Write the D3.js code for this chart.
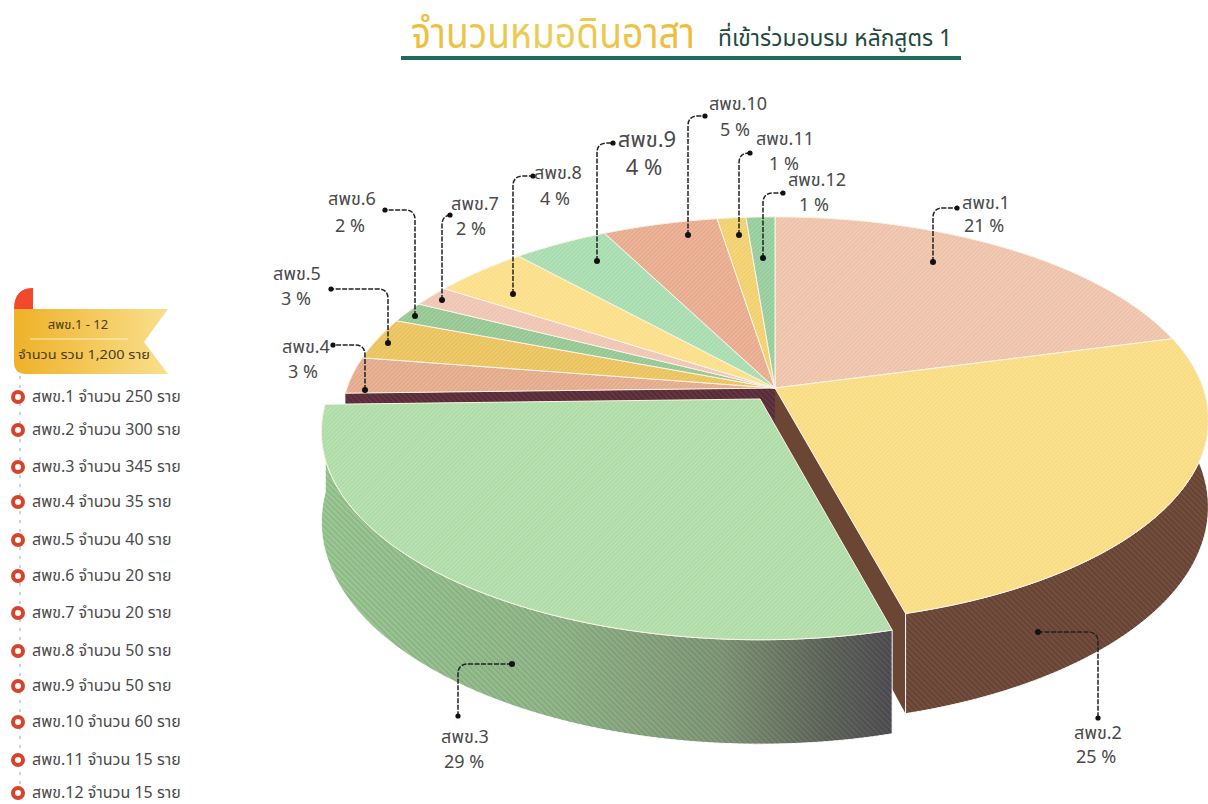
<!DOCTYPE html>
<html>
<head>
<meta charset="utf-8">
<script src="https://cdn.jsdelivr.net/npm/d3@7"></script>
<style>
  html, body { margin: 0; padding: 0; background: #fff; }
  text { font-family: "Noto Sans Thai", "Noto Sans", "Open Sans", sans-serif; fill: #4a4a4a; }
</style>
</head>
<body>
<div id="chart"></div>
<script>
// farmers per region
const regions = ["สพข.1", "สพข.2", "สพข.3", "สพข.4", "สพข.5", "สพข.6", "สพข.7", "สพข.8", "สพข.9", "สพข.10", "สพข.11", "สพข.12"];
const counts = [250, 300, 345, 35, 40, 20, 20, 50, 50, 60, 15, 15];
const percents = [21, 25, 29, 3, 3, 2, 2, 4, 4, 5, 1, 1];
const colors = ["#eec2a9", "#f9dc80", "#aedca6", "#e3a988", "#eac25a", "#93c690", "#efc4b2", "#fbde86", "#a6dcae", "#e8aa8c", "#f1cf6a", "#94cc9b"];

// callouts: name pos, percent pos, dot on the slice, end of the leader
const namePos = [[986,203],[1098,733],[465,737],[306,347],[297,274],[352,199],[475,204],[558,173],[647,141],[738,104],[785,139],[817,180]];
const pctPos = [[984,226],[1096,757],[464,762],[303,372],[296,299],[350,226],[471,229],[555,199],[644,169],[735,130],[784,164],[814,205]];
const dotPos = [[933,262],[1038,632],[512,664],[365,390],[388,343],[415,316],[442,300],[513,294],[597,261],[688,235],[739,235],[763,258]];
const endPos = [[957,208],[1098,718],[458,716],[333,345],[331,289],[385,210],[450,215],[533,176],[613,143],[705,116],[750,153],[783,193]];
const legendY = [397,430,467,502,540,576,613,651,686,722,760,793];

const width = 1208;
const height = 804;

const svg = d3.select("#chart").append("svg")
    .attr("width", width)
    .attr("height", height)
    .style("display", "block");

const defs = svg.append("defs");

// fine diagonal hatch seen on all the slices
const hatch = defs.append("pattern")
    .attr("id", "hatch")
    .attr("patternUnits", "userSpaceOnUse")
    .attr("width", 3).attr("height", 3)
    .attr("patternTransform", "rotate(45)");
hatch.append("rect").attr("width", 1).attr("height", 3).attr("fill", "#fff").attr("opacity", 0.2);

const hatchDark = defs.append("pattern")
    .attr("id", "hatchDark")
    .attr("patternUnits", "userSpaceOnUse")
    .attr("width", 4).attr("height", 4)
    .attr("patternTransform", "rotate(-45)");
hatchDark.append("rect").attr("width", 1.5).attr("height", 4).attr("fill", "#000").attr("opacity", 0.08);
hatchDark.append("rect").attr("x", 2).attr("width", 1).attr("height", 4).attr("fill", "#fff").attr("opacity", 0.06);

function addGradient(id, x1, x2, stops) {
    const g = defs.append("linearGradient")
        .attr("id", id)
        .attr("gradientUnits", "userSpaceOnUse")
        .attr("x1", x1).attr("x2", x2).attr("y1", 0).attr("y2", 0);
    stops.forEach(s => g.append("stop").attr("offset", s[0]).attr("stop-color", s[1]));
}
addGradient("wallGreen", 322, 893, [[0, "#98c791"], [0.4, "#90b688"], [0.7, "#7f9676"], [0.88, "#5f655a"], [1, "#4e4c52"]]);
addGradient("ribbon", 14, 170, [[0, "#efb128"], [1, "#f9e08e"]]);
addGradient("titleGold", 411, 695, [[0, "#eebd3a"], [0.5, "#e8cf5c"], [1, "#f0b93a"]]);

// tilted disc, the front of the pie is drawn bigger than the back
const cx = 775, cy = 388, rx = 428, ry = 198, persp = 0.157, wallBase = 85;

function project(t, sx = 1, sy = 1, ox = 0, oy = 0) {
    const u = Math.sin(t), v = -Math.cos(t);
    const k = 1 / (1 - persp * v);
    return [cx + ox + sx * rx * u * k, cy + oy + sy * ry * v * k, k];
}

const pie = d3.pie().sort(null)(counts);
const line = d3.line().curve(d3.curveLinearClosed);
const rimStep = 0.01;

function rim(a0, a1, pull) {
    const ts = d3.range(a0, a1, rimStep).concat([a1]);
    return ts.map(t => project(t, pull.sx, pull.sy, pull.ox, pull.oy));
}

const noPull = { sx: 1, sy: 1, ox: 0, oy: 0 };

function sliceTop(d, pull = noPull) {
    const pts = rim(d.startAngle, d.endAngle, pull).map(p => [p[0], p[1]]);
    return line([[cx + pull.ox, cy + pull.oy]].concat(pts));
}

function outerWall(d, depth, pull = noPull) {
    const top = rim(d.startAngle, d.endAngle, pull);
    const low = top.map(p => [p[0], p[1] + depth * p[2]]).reverse();
    return line(top.map(p => [p[0], p[1]]).concat(low));
}

function radialWall(t, depth) {
    const p = project(t);
    return line([
        [cx, cy],
        [p[0], p[1]],
        [p[0], p[1] + depth * p[2]],
        [cx, cy + depth]
    ]);
}

const chart = svg.append("g");

// cut face of the back slices, only a thin strip stays visible above slice 3
chart.append("path")
    .attr("d", radialWall(pie[3].startAngle, wallBase))
    .attr("fill", "#5e2f3a");
chart.append("path")
    .attr("d", radialWall(pie[3].startAngle, wallBase))
    .attr("fill", "url(#hatchDark)");

// slice 2 walls
chart.append("path")
    .attr("d", radialWall(pie[1].endAngle, wallBase))
    .attr("fill", "#6c4635");
chart.append("path")
    .attr("d", outerWall(pie[1], wallBase))
    .attr("fill", "#6e4838")
    .attr("stroke", "#fff").attr("stroke-width", 1);
chart.append("path")
    .attr("d", outerWall(pie[1], wallBase))
    .attr("fill", "url(#hatchDark)");

// slice 3 is pulled out of the pie
const pull3 = { sx: 1.012, sy: 1.025, ox: -15, oy: 11 };
chart.append("path")
    .attr("d", outerWall(pie[2], wallBase + 3, pull3))
    .attr("fill", "url(#wallGreen)")
    .attr("stroke", "#fff").attr("stroke-width", 1);
chart.append("path")
    .attr("d", outerWall(pie[2], wallBase + 3, pull3))
    .attr("fill", "url(#hatchDark)");

const tops = chart.selectAll(".slice")
    .data(pie)
    .join("g")
    .attr("class", "slice");

tops.append("path")
    .attr("d", d => d.index === 2 ? sliceTop(d, pull3) : sliceTop(d))
    .attr("fill", d => colors[d.index])
    .attr("stroke", "#fbf3e6")
    .attr("stroke-width", 1)
    .attr("stroke-linejoin", "round");

tops.append("path")
    .attr("d", d => d.index === 2 ? sliceTop(d, pull3) : sliceTop(d))
    .attr("fill", "url(#hatch)");

// leaders and labels
const leaderLine = (a, b, i) => {
    const r = 10;
    if (i === 1) { // dot, right, then down
        return `M${a[0]},${a[1]}H${b[0] - r}Q${b[0]},${a[1]} ${b[0]},${a[1] + r}V${b[1]}`;
    }
    if (i === 2) { // dot, left, then down
        return `M${a[0]},${a[1]}H${b[0] + r}Q${b[0]},${a[1]} ${b[0]},${a[1] + r}V${b[1]}`;
    }
    if (i >= 3 && i <= 5) { // up, then back to the left
        return `M${a[0]},${a[1]}V${b[1] + r}Q${a[0]},${b[1]} ${a[0] - r},${b[1]}H${b[0]}`;
    }
    // up, then right to the label
    return `M${a[0]},${a[1]}V${b[1] + r}Q${a[0]},${b[1]} ${a[0] + r},${b[1]}H${b[0]}`;
};

const leaders = svg.append("g");
regions.forEach((name, i) => {
    leaders.append("path")
        .attr("d", leaderLine(dotPos[i], endPos[i], i))
        .attr("fill", "none")
        .attr("stroke", "#222")
        .attr("stroke-width", 1.5)
        .attr("stroke-dasharray", "5 1.5");
    leaders.append("circle").attr("cx", dotPos[i][0]).attr("cy", dotPos[i][1]).attr("r", 3).attr("fill", "#111");
    leaders.append("circle").attr("cx", endPos[i][0]).attr("cy", endPos[i][1]).attr("r", 2.6).attr("fill", "#111");

    const big = i === 8;
    leaders.append("text")
        .attr("x", namePos[i][0]).attr("y", namePos[i][1] + 6)
        .attr("text-anchor", "middle")
        .style("font-size", big ? "22px" : "18px")
        .text(name);
    leaders.append("text")
        .attr("x", pctPos[i][0]).attr("y", pctPos[i][1] + 6)
        .attr("text-anchor", "middle")
        .style("font-size", big ? "22px" : "18px")
        .text(`${percents[i]} %`);
});

// title
svg.append("text")
    .attr("x", 411).attr("y", 48)
    .style("font-size", "42px")
    .style("fill", "url(#titleGold)")
    .attr("textLength", 284)
    .attr("lengthAdjust", "spacingAndGlyphs")
    .text("จำนวนหมอดินอาสา");
svg.append("text")
    .attr("x", 718).attr("y", 46)
    .style("font-size", "23px")
    .style("fill", "#1f4a40")
    .attr("textLength", 234)
    .attr("lengthAdjust", "spacingAndGlyphs")
    .text("ที่เข้าร่วมอบรม หลักสูตร 1");
svg.append("rect")
    .attr("x", 401).attr("y", 56)
    .attr("width", 560).attr("height", 4)
    .attr("fill", "#1f6b5c");

// legend
const legend = svg.append("g");

legend.append("line")
    .attr("x1", 20).attr("x2", 20)
    .attr("y1", 376).attr("y2", 790)
    .attr("stroke", "#c9d3e4")
    .attr("stroke-width", 2)
    .attr("stroke-dasharray", "3 6");

legend.append("path")
    .attr("d", "M14,309Q14,288 33,288V309Z")
    .attr("fill", "#f0492b");
legend.append("path")
    .attr("d", "M14,309H168L144,342L168,374H26Q14,374 14,362Z")
    .attr("fill", "url(#ribbon)");
legend.append("line")
    .attr("x1", 30).attr("x2", 128)
    .attr("y1", 339).attr("y2", 339)
    .attr("stroke", "#fff3c4").attr("stroke-width", 1.2);
legend.append("text")
    .attr("x", 78).attr("y", 329)
    .attr("text-anchor", "middle")
    .style("font-size", "13px")
    .style("fill", "#4d3d1c")
    .text("สพข.1 - 12");
legend.append("text")
    .attr("x", 18).attr("y", 359)
    .style("font-size", "13px")
    .style("fill", "#4d3d1c")
    .attr("textLength", 132)
    .attr("lengthAdjust", "spacingAndGlyphs")
    .text("จำนวน รวม 1,200 ราย");

const rows = legend.selectAll(".row")
    .data(regions)
    .join("g")
    .attr("class", "row")
    .attr("transform", (d, i) => `translate(18,${legendY[i]})`);

rows.append("circle")
    .attr("r", 5)
    .attr("fill", "#fff")
    .attr("stroke", "#d8432a")
    .attr("stroke-width", 4);

rows.append("text")
    .attr("x", 14).attr("y", 5)
    .style("font-size", "16px")
    .text((d, i) => `${d} จำนวน ${counts[i]} ราย`);
</script>
</body>
</html>
